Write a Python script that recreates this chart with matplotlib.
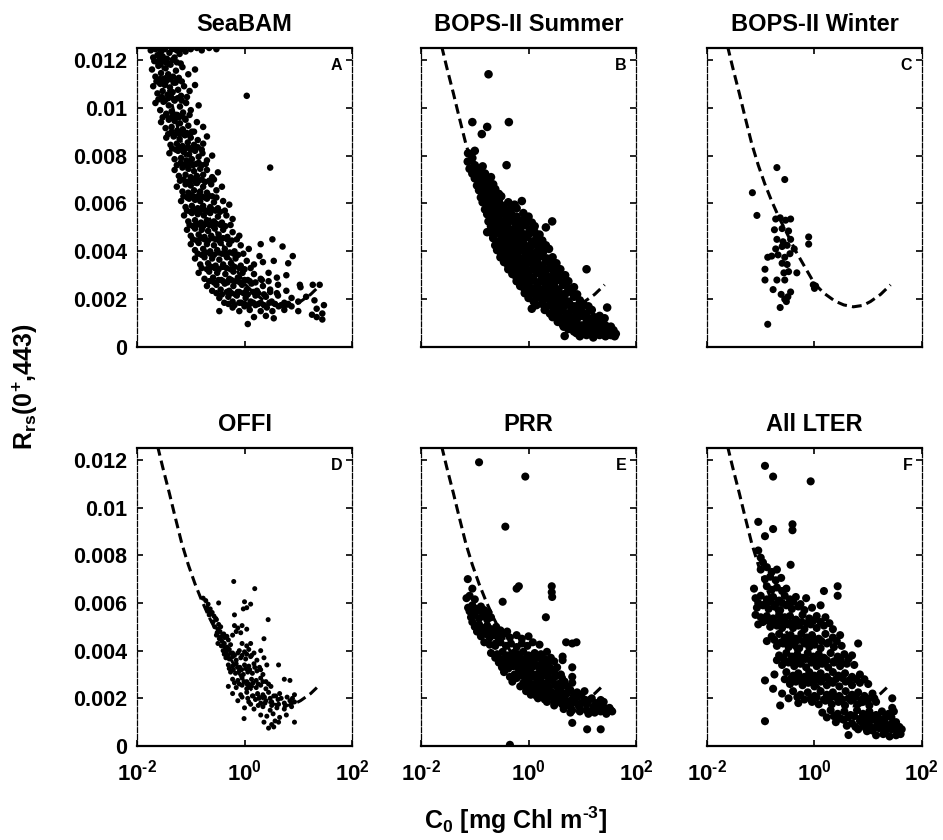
import numpy as np
import matplotlib
matplotlib.use("Agg")
import matplotlib.pyplot as plt

# ==========================================
# 0. DATA (C0 in mg Chl m^-3, Rrs x 1000)
# ==========================================
panel_titles = ["SeaBAM", "BOPS-II Summer", "BOPS-II Winter", "OFFI", "PRR", "All LTER"]
panel_letters = ["A", "B", "C", "D", "E", "F"]

# dashed model curve
curve_chl = [0.022, 0.024, 0.03, 0.04, 0.05, 0.068, 0.09, 0.12, 0.16, 0.22, 0.3, 0.45,
             0.7, 1.0, 1.5, 2.4, 3.5, 5.3, 8, 11, 17, 26]
curve_rrs = [13.2, 12.6, 11.7, 10.6, 9.7, 8.5, 7.6, 6.8, 6.1, 5.4, 4.8, 4.0,
             3.25, 2.65, 2.25, 1.92, 1.76, 1.68, 1.74, 1.9, 2.2, 2.6]

seabam_pts = [
    (0.018, 12.4), (0.02, 12.1), (0.022, 12.45), (0.024, 12.2), (0.026, 12.0), (0.028, 12.35),
    (0.03, 12.15), (0.033, 12.45), (0.036, 12.05), (0.04, 12.3), (0.045, 12.45), (0.05, 12.1),
    (0.055, 12.4), (0.062, 12.25), (0.07, 12.45), (0.08, 12.35), (0.1, 12.45), (0.13, 12.5),
    (0.16, 12.4), (0.22, 12.5), (0.3, 12.45),
    (0.019, 11.6), (0.022, 11.3), (0.025, 11.75), (0.028, 11.45), (0.031, 11.2), (0.034, 11.65),
    (0.038, 11.4), (0.042, 11.8), (0.047, 11.3), (0.053, 11.55), (0.06, 11.25), (0.07, 11.7),
    (0.09, 11.4), (0.12, 11.6),
    (0.02, 10.9), (0.024, 10.6), (0.027, 11.0), (0.03, 10.7), (0.033, 10.95), (0.037, 10.55),
    (0.041, 10.85), (0.046, 10.65), (0.052, 11.05), (0.058, 10.75), (0.066, 10.5), (0.075, 10.9),
    (0.095, 10.7), (0.12, 10.95),
    (0.022, 10.2), (0.027, 9.9), (0.031, 10.25), (0.035, 9.75), (0.039, 10.1), (0.044, 9.85),
    (0.05, 10.3), (0.056, 9.7), (0.063, 10.05), (0.072, 9.8), (0.082, 10.2), (0.1, 9.9),
    (0.14, 10.1), (1.1, 10.5),
    (0.028, 9.4), (0.034, 9.15), (0.039, 9.5), (0.044, 9.2), (0.05, 9.45), (0.056, 9.05),
    (0.063, 9.35), (0.071, 9.1), (0.08, 9.5), (0.09, 9.25), (0.105, 9.0), (0.13, 9.4), (0.17, 9.2),
    (0.035, 8.75), (0.042, 8.45), (0.048, 8.8), (0.055, 8.5), (0.062, 8.7), (0.07, 8.4),
    (0.078, 8.85), (0.088, 8.55), (0.1, 8.75), (0.115, 8.45), (0.135, 8.65), (0.17, 8.5), (0.2, 8.8),
    (0.04, 8.1), (0.05, 7.85), (0.058, 8.2), (0.066, 7.9), (0.074, 8.15), (0.083, 7.8),
    (0.093, 8.05), (0.105, 7.85), (0.12, 8.2), (0.14, 7.95), (0.165, 8.1), (0.2, 7.8), (0.25, 8.0),
    (0.05, 7.4), (0.06, 7.15), (0.07, 7.5), (0.08, 7.2), (0.09, 7.45), (0.1, 7.1), (0.115, 7.35),
    (0.13, 7.15), (0.15, 7.45), (0.17, 7.2), (0.2, 7.4), (0.25, 7.1), (0.32, 7.3), (3.0, 7.5),
    (0.055, 6.7), (0.07, 6.5), (0.08, 6.8), (0.09, 6.45), (0.1, 6.75), (0.115, 6.55), (0.13, 6.85),
    (0.15, 6.5), (0.17, 6.7), (0.2, 6.45), (0.24, 6.8), (0.3, 6.55), (0.38, 6.7),
    (0.066, 6.1), (0.08, 5.85), (0.093, 6.2), (0.105, 5.9), (0.12, 6.15), (0.135, 5.8), (0.15, 6.1),
    (0.17, 5.9), (0.2, 6.2), (0.23, 5.85), (0.27, 6.05), (0.32, 5.8), (0.4, 6.1), (0.52, 5.95),
    (0.075, 5.5), (0.09, 5.25), (0.105, 5.6), (0.12, 5.3), (0.135, 5.55), (0.155, 5.2),
    (0.175, 5.5), (0.2, 5.3), (0.23, 5.6), (0.27, 5.25), (0.32, 5.45), (0.38, 5.2), (0.46, 5.5),
    (0.6, 5.35),
    (0.085, 4.9), (0.1, 4.65), (0.12, 4.95), (0.14, 4.7), (0.16, 4.9), (0.18, 4.6), (0.21, 4.85),
    (0.24, 4.65), (0.28, 4.95), (0.33, 4.7), (0.4, 4.9), (0.48, 4.6), (0.6, 4.8), (0.8, 4.65),
    (0.1, 4.3), (0.12, 4.05), (0.14, 4.35), (0.17, 4.1), (0.2, 4.3), (0.23, 4.0), (0.27, 4.25),
    (0.31, 4.05), (0.36, 4.35), (0.43, 4.1), (0.52, 4.3), (0.65, 4.0), (0.85, 4.25), (1.2, 4.1),
    (2.0, 4.3), (3.3, 4.5), (5.1, 4.2),
    (0.12, 3.7), (0.15, 3.45), (0.18, 3.75), (0.21, 3.5), (0.25, 3.7), (0.29, 3.4), (0.34, 3.65),
    (0.4, 3.45), (0.47, 3.75), (0.56, 3.5), (0.68, 3.7), (0.85, 3.4), (1.1, 3.6), (1.5, 3.45),
    (1.9, 3.8), (2.2, 3.55), (3.5, 3.6), (6.5, 3.5), (7.9, 3.8),
    (0.14, 3.1), (0.18, 2.85), (0.22, 3.15), (0.26, 2.9), (0.31, 3.1), (0.37, 2.8), (0.44, 3.05),
    (0.52, 2.85), (0.62, 3.15), (0.75, 2.9), (0.92, 3.1), (1.15, 2.8), (1.5, 3.05), (2.0, 2.85),
    (2.8, 3.1), (4, 2.9), (6, 3.0), (10.7, 2.6),
    (0.2, 2.55), (0.25, 2.35), (0.3, 2.6), (0.36, 2.4), (0.43, 2.65), (0.52, 2.35), (0.62, 2.55),
    (0.75, 2.3), (0.9, 2.6), (1.1, 2.4), (1.35, 2.65), (1.7, 2.35), (2.2, 2.55), (3.0, 2.4),
    (4.2, 2.6), (6, 2.35), (11, 2.5), (18.6, 2.6), (25, 2.6),
    (0.34, 2.05), (0.42, 1.85), (0.5, 2.1), (0.6, 1.9), (0.72, 2.15), (0.87, 1.85), (1.05, 2.05),
    (1.3, 1.9), (1.6, 2.15), (2.0, 1.85), (2.5, 2.1), (3.2, 1.9), (4.2, 2.15), (5.5, 1.85),
    (7.5, 2.05), (10, 1.9), (14, 2.1), (20, 1.95),
    (0.6, 1.65), (0.8, 1.5), (1.0, 1.7), (1.25, 1.55), (1.6, 1.75), (2.0, 1.5), (2.6, 1.65),
    (3.3, 1.5), (4.3, 1.7), (5.5, 1.55), (7.5, 1.7), (10, 1.5), (18, 1.35), (22, 1.6), (28, 1.4),
    (30, 1.75),
    (0.34, 1.5), (1.15, 0.96), (1.5, 1.25), (2.5, 1.3), (3.5, 1.2), (22, 1.25), (28, 1.15),
    # dense core, in-between rows
    (0.021, 11.95), (0.025, 11.85), (0.029, 12.0), (0.034, 11.9), (0.039, 11.85), (0.046, 12.0),
    (0.055, 11.9), (0.065, 11.85),
    (0.023, 11.1), (0.027, 11.2), (0.031, 11.05), (0.036, 11.15), (0.041, 11.2), (0.048, 11.05),
    (0.056, 11.15), (0.068, 11.1),
    (0.025, 10.35), (0.029, 10.45), (0.033, 10.3), (0.038, 10.4), (0.043, 10.45), (0.049, 10.35),
    (0.057, 10.4), (0.068, 10.3), (0.085, 10.45),
    (0.03, 9.6), (0.035, 9.7), (0.04, 9.55), (0.046, 9.65), (0.053, 9.7), (0.06, 9.6),
    (0.068, 9.65), (0.078, 9.55), (0.095, 9.7),
    (0.038, 8.9), (0.044, 9.0), (0.05, 8.85), (0.057, 8.95), (0.065, 9.0), (0.074, 8.9),
    (0.084, 8.95), (0.096, 8.85), (0.115, 9.0),
    (0.045, 8.3), (0.053, 8.25), (0.061, 8.35), (0.07, 8.25), (0.08, 8.3), (0.09, 8.35),
    (0.1, 8.25), (0.115, 8.3), (0.135, 8.35), (0.16, 8.25),
    (0.055, 7.6), (0.065, 7.7), (0.075, 7.6), (0.085, 7.65), (0.095, 7.7), (0.11, 7.6),
    (0.125, 7.65), (0.14, 7.7), (0.16, 7.6), (0.19, 7.65),
    (0.063, 6.95), (0.073, 7.0), (0.085, 6.9), (0.097, 6.95), (0.11, 7.0), (0.125, 6.9),
    (0.14, 6.95), (0.16, 7.0), (0.185, 6.9), (0.22, 6.95), (0.27, 7.0),
    (0.073, 6.3), (0.086, 6.25), (0.1, 6.35), (0.112, 6.3), (0.127, 6.25), (0.143, 6.35),
    (0.16, 6.3), (0.185, 6.25), (0.21, 6.35), (0.25, 6.3), (0.3, 6.25),
    (0.085, 5.7), (0.1, 5.65), (0.113, 5.75), (0.128, 5.7), (0.145, 5.65), (0.165, 5.75),
    (0.19, 5.7), (0.215, 5.65), (0.25, 5.75), (0.29, 5.7), (0.35, 5.65), (0.43, 5.7),
    (0.095, 5.1), (0.11, 5.05), (0.13, 5.15), (0.15, 5.1), (0.17, 5.05), (0.195, 5.15),
    (0.22, 5.1), (0.26, 5.05), (0.3, 5.15), (0.36, 5.1), (0.44, 5.05), (0.55, 5.1),
    (0.11, 4.5), (0.13, 4.45), (0.155, 4.55), (0.18, 4.5), (0.21, 4.45), (0.25, 4.55),
    (0.29, 4.5), (0.34, 4.45), (0.4, 4.55), (0.48, 4.5), (0.58, 4.45), (0.72, 4.5),
    (0.135, 3.9), (0.16, 3.85), (0.19, 3.95), (0.23, 3.9), (0.27, 3.85), (0.32, 3.95),
    (0.38, 3.9), (0.45, 3.85), (0.53, 3.95), (0.63, 3.9), (0.76, 3.85), (0.95, 3.9),
    (0.16, 3.3), (0.2, 3.25), (0.24, 3.35), (0.28, 3.3), (0.33, 3.25), (0.39, 3.35),
    (0.46, 3.3), (0.55, 3.25), (0.65, 3.35), (0.8, 3.3), (1.0, 3.25), (1.3, 3.3),
    (0.22, 2.75), (0.27, 2.7), (0.33, 2.8), (0.4, 2.75), (0.48, 2.7), (0.57, 2.8), (0.68, 2.75),
    (0.82, 2.7), (1.0, 2.8), (1.25, 2.75), (1.6, 2.7), (2.1, 2.8), (2.8, 2.75),
    (0.3, 2.25), (0.38, 2.2), (0.47, 2.3), (0.57, 2.25), (0.68, 2.2), (0.8, 2.3), (0.96, 2.25),
    (1.15, 2.2), (1.45, 2.3), (1.8, 2.25), (2.3, 2.2), (3.0, 2.3), (4.0, 2.25),
    (0.5, 1.8), (0.65, 1.75), (0.8, 1.85), (1.0, 1.8), (1.2, 1.75), (1.45, 1.85), (1.8, 1.8),
    (2.3, 1.75), (2.9, 1.85), (3.7, 1.8), (4.8, 1.75), (6.5, 1.8),
]

bops_summer_pts = [
    (0.18, 11.4), (0.09, 9.4), (0.17, 9.2), (0.135, 8.9), (0.43, 9.4), (0.074, 7.75), (0.39, 7.6),
    (0.17, 4.8), (1.15, 1.6), (4.7, 0.46), (29, 1.65), (12, 3.25), (2.75, 5.25), (2.1, 5.0), (3.3, 3.5),
    (0.075, 8.1), (0.09, 7.9), (0.1, 8.2),
    (0.08, 7.45), (0.1, 7.6), (0.12, 7.4), (0.14, 7.55),
    (0.1, 7.05), (0.12, 6.9), (0.14, 7.1), (0.17, 6.95), (0.2, 7.1),
    (0.12, 6.55), (0.14, 6.4), (0.17, 6.6), (0.2, 6.45), (0.24, 6.6), (0.28, 6.4),
    (0.14, 6.05), (0.17, 5.9), (0.2, 6.1), (0.24, 5.95), (0.28, 6.1), (0.34, 5.9), (0.42, 6.05),
    (0.55, 5.95), (0.75, 6.1),
    (0.17, 5.55), (0.2, 5.4), (0.24, 5.6), (0.28, 5.45), (0.33, 5.6), (0.4, 5.4), (0.48, 5.55),
    (0.6, 5.45), (0.8, 5.6), (1.0, 5.45),
    (0.2, 5.05), (0.24, 4.9), (0.28, 5.1), (0.33, 4.95), (0.4, 5.1), (0.48, 4.9), (0.58, 5.05),
    (0.7, 4.95), (0.85, 5.1), (1.05, 4.9), (1.3, 5.05),
    (0.22, 4.55), (0.27, 4.4), (0.32, 4.6), (0.38, 4.45), (0.45, 4.6), (0.54, 4.4), (0.65, 4.55),
    (0.78, 4.45), (0.95, 4.6), (1.15, 4.4), (1.4, 4.55), (1.8, 4.45),
    (0.26, 4.05), (0.31, 3.9), (0.37, 4.1), (0.44, 3.95), (0.52, 4.1), (0.62, 3.9), (0.74, 4.05),
    (0.88, 3.95), (1.05, 4.1), (1.25, 3.9), (1.5, 4.05), (1.85, 3.95), (2.4, 4.1),
    (0.35, 3.55), (0.42, 3.4), (0.5, 3.6), (0.6, 3.45), (0.72, 3.55), (0.86, 3.4), (1.0, 3.6),
    (1.2, 3.45), (1.45, 3.55), (1.75, 3.4), (2.1, 3.6), (2.6, 3.45),
    (0.5, 3.05), (0.6, 2.9), (0.72, 3.1), (0.86, 2.95), (1.0, 3.05), (1.2, 2.9), (1.45, 3.1),
    (1.75, 2.95), (2.1, 3.05), (2.5, 2.9), (3.0, 3.1), (3.7, 2.95), (4.8, 3.0),
    (0.7, 2.55), (0.85, 2.4), (1.0, 2.6), (1.2, 2.45), (1.45, 2.55), (1.75, 2.4), (2.1, 2.6),
    (2.5, 2.45), (3.0, 2.55), (3.6, 2.4), (4.4, 2.6), (5.5, 2.45), (7, 2.5),
    (1.0, 2.05), (1.25, 1.9), (1.5, 2.1), (1.8, 1.95), (2.2, 2.05), (2.6, 1.9), (3.1, 2.1),
    (3.7, 1.95), (4.5, 2.05), (5.5, 1.9), (7, 2.1), (9, 1.95),
    (2.0, 1.55), (2.5, 1.4), (3.0, 1.6), (3.6, 1.45), (4.3, 1.55), (5.2, 1.4), (6.3, 1.6),
    (7.7, 1.45), (9.5, 1.55), (12, 1.4), (15, 1.55),
    (3.5, 1.05), (4.3, 0.95), (5.2, 1.1), (6.3, 0.95), (7.7, 1.05), (9.5, 0.9), (12, 1.05),
    (15, 0.95), (19, 1.1), (24, 0.95),
    (5.5, 0.75), (7, 0.65), (9, 0.75), (11, 0.6), (14, 0.75), (18, 0.65), (23, 0.75), (30, 0.6),
    (38, 0.7),
    (9, 0.45), (12, 0.5), (16, 0.4), (21, 0.5), (27, 0.45), (34, 0.5), (40, 0.45),
    # dense core, in-between rows
    (0.09, 7.25), (0.11, 7.3), (0.13, 7.2), (0.155, 7.25),
    (0.11, 6.75), (0.13, 6.8), (0.155, 6.7), (0.185, 6.75), (0.22, 6.8),
    (0.13, 6.25), (0.155, 6.2), (0.185, 6.3), (0.22, 6.25), (0.26, 6.2), (0.31, 6.3),
    (0.155, 5.75), (0.185, 5.8), (0.22, 5.7), (0.26, 5.75), (0.31, 5.8), (0.37, 5.7), (0.45, 5.75),
    (0.6, 5.8),
    (0.18, 5.25), (0.22, 5.2), (0.26, 5.3), (0.31, 5.25), (0.37, 5.2), (0.44, 5.3), (0.53, 5.25),
    (0.64, 5.2), (0.77, 5.3), (0.93, 5.25), (1.15, 5.2),
    (0.21, 4.75), (0.25, 4.8), (0.3, 4.7), (0.36, 4.75), (0.42, 4.8), (0.5, 4.7), (0.6, 4.75),
    (0.72, 4.8), (0.87, 4.7), (1.05, 4.75), (1.3, 4.8), (1.6, 4.7),
    (0.24, 4.25), (0.29, 4.3), (0.34, 4.2), (0.41, 4.25), (0.48, 4.3), (0.57, 4.2), (0.68, 4.25),
    (0.81, 4.3), (0.97, 4.2), (1.15, 4.25), (1.4, 4.3), (1.7, 4.2), (2.1, 4.25),
    (0.3, 3.75), (0.36, 3.8), (0.43, 3.7), (0.51, 3.75), (0.61, 3.8), (0.73, 3.7), (0.87, 3.75),
    (1.03, 3.8), (1.23, 3.7), (1.48, 3.75), (1.8, 3.8), (2.2, 3.7), (2.8, 3.75),
    (0.42, 3.25), (0.5, 3.3), (0.6, 3.2), (0.72, 3.25), (0.85, 3.3), (1.0, 3.2), (1.2, 3.25),
    (1.45, 3.3), (1.75, 3.2), (2.1, 3.25), (2.5, 3.3), (3.1, 3.2), (3.9, 3.25),
    (0.6, 2.75), (0.72, 2.8), (0.86, 2.7), (1.03, 2.75), (1.23, 2.8), (1.47, 2.7), (1.76, 2.75),
    (2.1, 2.8), (2.5, 2.7), (3.0, 2.75), (3.6, 2.8), (4.4, 2.7), (5.5, 2.75),
    (0.85, 2.25), (1.05, 2.3), (1.3, 2.2), (1.55, 2.25), (1.9, 2.3), (2.3, 2.2), (2.8, 2.25),
    (3.4, 2.3), (4.1, 2.2), (5, 2.25), (6.2, 2.3), (8, 2.2),
    (1.4, 1.75), (1.8, 1.8), (2.2, 1.7), (2.7, 1.75), (3.3, 1.8), (4.0, 1.7), (4.8, 1.75),
    (5.8, 1.8), (7, 1.7), (8.5, 1.75), (10.5, 1.8), (13, 1.7),
    (2.8, 1.25), (3.3, 1.3), (4.0, 1.2), (4.8, 1.25), (5.8, 1.3), (7, 1.2), (8.5, 1.25),
    (10.5, 1.3), (13, 1.2), (16.5, 1.25), (21, 1.3), (26, 1.2),
    (4.5, 0.85), (5.8, 0.8), (7, 0.9), (8.5, 0.85), (10.5, 0.8), (13, 0.9), (16.5, 0.85),
    (21, 0.8), (27, 0.9), (34, 0.85),
    (7.8, 0.58), (10, 0.55), (12.5, 0.62), (16, 0.58), (20, 0.55), (26, 0.6), (33, 0.58), (42, 0.55),
]

bops_winter_pts = [
    (0.2, 7.5), (0.28, 7.0), (0.07, 6.45), (0.085, 5.5),
    (0.19, 5.35), (0.23, 5.4), (0.29, 5.3), (0.36, 5.35),
    (0.18, 4.9), (0.25, 4.95), (0.33, 4.85),
    (0.2, 4.5), (0.26, 4.4), (0.36, 4.5),
    (0.19, 4.1), (0.25, 4.2), (0.31, 4.25), (0.42, 4.1),
    (0.16, 3.8), (0.21, 3.85), (0.28, 3.75), (0.35, 3.9),
    (0.25, 3.5), (0.31, 3.45), (0.27, 3.1), (0.33, 3.15), (0.28, 2.8),
    (0.78, 4.6), (0.78, 4.3), (0.47, 3.1), (0.95, 2.6), (1.0, 2.45), (1.05, 2.55),
    (0.12, 3.25), (0.12, 2.8), (0.2, 2.8), (0.17, 2.4), (0.24, 2.2), (0.28, 2.0), (0.32, 2.1),
    (0.36, 2.3), (0.3, 1.9), (0.23, 1.65), (0.135, 0.95), (0.135, 3.75),
]

offi_pts = [
    (0.63, 6.9), (1.55, 6.6), (0.17, 6.2), (0.19, 6.1), (0.33, 6.0), (0.21, 5.95), (1.0, 6.05),
    (1.3, 5.95), (0.2, 5.8), (0.23, 5.75), (0.25, 5.6), (0.95, 5.75), (1.1, 5.8), (0.22, 5.5),
    (0.27, 5.45), (0.29, 5.35), (0.65, 5.5), (0.26, 5.2), (0.3, 5.3), (0.33, 5.1), (2.75, 5.3),
    (0.28, 5.0), (0.32, 4.9), (0.36, 5.0), (0.65, 5.05), (0.75, 4.95), (0.9, 5.05), (1.1, 4.9),
    (0.31, 4.75), (0.35, 4.8), (0.39, 4.65), (0.7, 4.8), (0.85, 4.75), (0.34, 4.5), (0.38, 4.4),
    (0.43, 4.55), (0.5, 4.45), (2.3, 4.5), (0.32, 4.3), (0.37, 4.2), (0.42, 4.3), (0.47, 4.15),
    (0.55, 4.25), (0.9, 4.3), (1.1, 4.2), (1.3, 4.3), (0.4, 4.0), (0.46, 3.95), (0.52, 4.05),
    (0.6, 3.9), (0.8, 4.0), (1.0, 3.95), (1.2, 4.05), (1.5, 3.9), (2.0, 4.0), (0.45, 3.7),
    (0.52, 3.65), (0.6, 3.75), (0.7, 3.6), (0.85, 3.7), (1.05, 3.65), (1.3, 3.75), (1.7, 3.6),
    (2.3, 3.7), (0.5, 3.4), (0.6, 3.35), (0.7, 3.45), (0.82, 3.3), (1.0, 3.4), (1.2, 3.35),
    (1.5, 3.45), (1.9, 3.3), (2.6, 3.4), (4.3, 3.4), (0.55, 3.1), (0.68, 3.05), (0.8, 3.15),
    (0.95, 3.0), (1.15, 3.1), (1.4, 3.05), (1.7, 3.15), (2.2, 3.0), (0.6, 2.8), (0.75, 2.75),
    (0.9, 2.85), (1.1, 2.7), (1.35, 2.8), (1.65, 2.75), (2.0, 2.85), (2.5, 2.7), (5.5, 2.8),
    (7, 2.75), (0.5, 2.5), (0.7, 2.45), (0.9, 2.55), (1.1, 2.4), (1.35, 2.5), (1.65, 2.45),
    (2.0, 2.55), (2.5, 2.4), (3.1, 2.5), (0.6, 2.2), (0.85, 2.15), (1.1, 2.25), (1.4, 2.1),
    (1.75, 2.2), (2.2, 2.15), (2.8, 2.25), (3.5, 2.1), (4.5, 2.2), (8.5, 2.15), (0.75, 1.9),
    (1.2, 1.85), (1.6, 1.95), (2.0, 1.8), (2.5, 1.9), (3.2, 1.85), (4.2, 1.95), (5.5, 1.8),
    (7, 1.9), (8.5, 1.85), (1.0, 1.6), (1.5, 1.55), (2.2, 1.65), (3.0, 1.5), (4.0, 1.6),
    (5.5, 1.55), (7.5, 1.65), (0.98, 1.15), (2.0, 1.3), (2.6, 1.25), (3.4, 1.35), (4.5, 1.2),
    (6, 1.3), (3.7, 1.05), (2.3, 1.0), (3.2, 0.9), (4.3, 1.0), (8.5, 1.0), (2.8, 0.75), (3.5, 0.8),
    (0.21, 5.65), (0.24, 5.55), (0.3, 4.65), (0.36, 4.55), (0.41, 4.7), (0.47, 4.6), (0.6, 4.65),
    (0.42, 3.85), (0.49, 3.8), (0.56, 3.9), (0.65, 3.8), (0.75, 3.9), (0.9, 3.8), (1.1, 3.85),
    (1.35, 3.8), (0.52, 3.25), (0.62, 3.2), (0.74, 3.3), (0.88, 3.2), (1.05, 3.25), (1.25, 3.2),
    (1.55, 3.3), (2.0, 3.2), (0.65, 2.65), (0.8, 2.6), (0.98, 2.7), (1.2, 2.6), (1.45, 2.65),
    (1.8, 2.6), (2.2, 2.7), (2.8, 2.6), (0.9, 2.05), (1.15, 2.0), (1.45, 2.1), (1.85, 2.0),
    (2.35, 2.05), (3.0, 2.0), (3.8, 2.1), (4.8, 2.0), (6.2, 2.05), (7.8, 2.0), (1.3, 1.75),
    (1.8, 1.7), (2.4, 1.8), (3.2, 1.7), (4.3, 1.75), (5.8, 1.7), (7.5, 1.8),
]

prr_pts = [
    (0.12, 11.9), (0.87, 11.3), (0.37, 9.2), (0.074, 7.0), (0.09, 6.6), (0.6, 6.6), (0.66, 6.7),
    (2.7, 6.7), (2.7, 6.45), (2.75, 6.25), (0.07, 6.2), (0.08, 6.3), (0.1, 6.15), (0.33, 6.05),
    (0.075, 5.8), (0.09, 5.9), (0.11, 5.75), (0.13, 5.85), (0.15, 5.7), (0.085, 5.4), (0.1, 5.5),
    (0.12, 5.35), (0.14, 5.45), (0.17, 5.3), (0.2, 5.4), (2.1, 5.4), (0.09, 5.2), (0.1, 5.0),
    (0.12, 5.1), (0.14, 4.95), (0.17, 5.05), (0.2, 4.9), (0.25, 5.0), (0.3, 4.85),
    (0.13, 4.6), (0.16, 4.7), (0.19, 4.55), (0.23, 4.65), (0.28, 4.5), (0.35, 4.7), (0.45, 4.55),
    (0.6, 4.65), (0.75, 4.5), (1.0, 4.6), (0.245, 4.3), (0.15, 4.35), (0.19, 4.25), (0.24, 4.2),
    (0.3, 4.35), (0.38, 4.2), (0.47, 4.3), (0.6, 4.15), (0.75, 4.3), (0.95, 4.2), (1.2, 4.35),
    (1.6, 4.25), (5, 4.35), (6.5, 4.3), (7.8, 4.35), (0.2, 3.9), (0.26, 3.85), (0.33, 3.95),
    (0.42, 3.8), (0.52, 3.9), (0.65, 3.85), (0.8, 3.95), (1.0, 3.8), (1.3, 3.9), (1.7, 3.85),
    (2.2, 3.95), (4.3, 3.75), (0.28, 3.5), (0.36, 3.45), (0.45, 3.55), (0.56, 3.4), (0.7, 3.5),
    (0.88, 3.45), (1.1, 3.55), (1.4, 3.4), (1.8, 3.5), (2.3, 3.45), (3.0, 3.55), (4.3, 3.6),
    (0.35, 3.1), (0.55, 3.0), (0.7, 3.15), (0.9, 3.05), (1.1, 3.1), (1.4, 3.0), (1.8, 3.15),
    (2.3, 3.05), (3, 3.1), (4, 3.0), (6.5, 3.3), (6.5, 2.9), (0.5, 2.7), (0.8, 2.65), (1.0, 2.75),
    (1.3, 2.6), (1.7, 2.7), (2.2, 2.65), (2.8, 2.75), (3.6, 2.6), (4.7, 2.7), (6.5, 2.65),
    (0.9, 2.3), (1.2, 2.35), (1.6, 2.25), (2.1, 2.35), (2.7, 2.25), (3.5, 2.3), (4.5, 2.2),
    (6, 2.35), (8, 2.25), (11, 2.3), (1.5, 2.0), (2.0, 1.95), (2.7, 2.05), (3.5, 1.95), (4.6, 2.0),
    (6, 1.9), (8, 2.05), (11, 1.95), (15, 2.0), (22, 1.93), (3, 1.7), (4.2, 1.75), (6, 1.65),
    (8.5, 1.7), (12, 1.75), (16, 1.65), (20, 1.7), (26, 1.6), (32, 1.6), (6, 1.4), (9, 1.45),
    (13, 1.35), (17, 1.4), (22, 1.45), (28, 1.35), (36, 1.45), (6.5, 0.97), (12.3, 0.7),
    (22, 0.7), (0.45, 0.05),
    (0.08, 5.65), (0.1, 5.6), (0.12, 5.7), (0.15, 5.55), (0.18, 5.6),
    (0.11, 4.8), (0.14, 4.75), (0.17, 4.85), (0.21, 4.75), (0.26, 4.8), (0.32, 4.7), (0.4, 4.8),
    (0.24, 3.7), (0.3, 3.65), (0.38, 3.75), (0.48, 3.65), (0.6, 3.7), (0.75, 3.65), (0.95, 3.75),
    (1.2, 3.65), (1.5, 3.7), (2.0, 3.65), (2.6, 3.7),
    (0.32, 3.3), (0.42, 3.25), (0.52, 3.35), (0.65, 3.25), (0.8, 3.3), (1.0, 3.25), (1.25, 3.35),
    (1.6, 3.25), (2.0, 3.3), (2.6, 3.25), (3.4, 3.3),
    (0.45, 2.9), (0.6, 2.85), (0.75, 2.95), (0.95, 2.85), (1.2, 2.9), (1.5, 2.85), (1.9, 2.95),
    (2.4, 2.85), (3.1, 2.9), (4.2, 2.85),
    (0.7, 2.5), (0.9, 2.45), (1.15, 2.55), (1.45, 2.45), (1.85, 2.5), (2.4, 2.45), (3.1, 2.55),
    (4, 2.45), (5.2, 2.5),
    (1.1, 2.15), (1.4, 2.1), (1.8, 2.2), (2.4, 2.1), (3.1, 2.15), (4, 2.1), (5.2, 2.2), (7, 2.1),
    (9.5, 2.15),
    (2.2, 1.85), (3, 1.8), (4, 1.9), (5.3, 1.8), (7, 1.85), (9.5, 1.8), (13, 1.9), (18, 1.8),
    (25, 1.85),
    (4.5, 1.55), (6.5, 1.5), (9, 1.6), (12, 1.5), (16, 1.55), (21, 1.5), (27, 1.55), (34, 1.5),
]

lter_pts = [
    (0.12, 11.75), (0.17, 11.3), (0.85, 11.1), (0.09, 9.4), (0.17, 9.1), (0.39, 9.3), (0.39, 9.05),
    (0.12, 8.8), (0.09, 8.2), (0.1, 7.9), (0.11, 7.7), (0.36, 7.6), (1.5, 6.5), (2.7, 6.7),
    (2.7, 6.3), (6.5, 4.3), (0.12, 2.75), (0.17, 2.4), (0.12, 1.04), (0.23, 1.7), (28, 2.0),
    (28, 1.6), (4.3, 0.46), (9.5, 0.62),
    (0.1, 7.4), (0.13, 7.5), (0.16, 7.3), (0.2, 7.4), (0.12, 7.0), (0.15, 7.1), (0.19, 6.95),
    (0.24, 7.05), (0.075, 6.6), (0.13, 6.7), (0.16, 6.55), (0.2, 6.65), (0.25, 6.5), (0.3, 6.6),
    (0.08, 6.2), (0.1, 6.3), (0.13, 6.15), (0.17, 6.25), (0.22, 6.1), (0.28, 6.3), (0.35, 6.15),
    (0.45, 6.25), (0.7, 6.2), (0.085, 5.8), (0.11, 5.9), (0.14, 5.75), (0.18, 5.85), (0.23, 5.7),
    (0.3, 5.9), (0.38, 5.75), (0.5, 5.85), (0.65, 5.7), (0.9, 5.8), (1.3, 5.9), (0.08, 5.5),
    (0.1, 5.4), (0.13, 5.45), (0.17, 5.35), (0.22, 5.5), (0.28, 5.4), (0.35, 5.45), (0.45, 5.3),
    (0.6, 5.5), (0.8, 5.35), (1.1, 5.45), (1.6, 5.4), (0.09, 5.1), (0.15, 5.0), (0.2, 5.05),
    (0.25, 4.95), (0.32, 5.1), (0.4, 4.95), (0.5, 5.05), (0.65, 4.9), (0.85, 5.1), (1.1, 4.95),
    (1.5, 5.05), (2.2, 4.9), (0.16, 4.6), (0.22, 4.7), (0.28, 4.55), (0.36, 4.65), (0.45, 4.5),
    (0.57, 4.7), (0.72, 4.55), (0.9, 4.65), (1.2, 4.5), (1.6, 4.7), (2.2, 4.55), (3, 4.65),
    (0.2, 4.2), (0.26, 4.3), (0.33, 4.15), (0.42, 4.25), (0.52, 4.1), (0.65, 4.3), (0.8, 4.15),
    (1.0, 4.25), (1.3, 4.1), (1.7, 4.3), (2.3, 4.15), (3.2, 4.2), (0.22, 3.8), (0.3, 3.9),
    (0.38, 3.75), (0.48, 3.85), (0.6, 3.7), (0.75, 3.9), (0.95, 3.75), (1.2, 3.85), (1.5, 3.7),
    (2.0, 3.9), (2.7, 3.75), (3.6, 3.85), (5, 3.8), (0.25, 3.4), (0.33, 3.5), (0.42, 3.35),
    (0.55, 3.45), (0.7, 3.3), (0.88, 3.5), (1.1, 3.35), (1.4, 3.45), (1.8, 3.3), (2.3, 3.5),
    (3.0, 3.35), (4, 3.45), (5.5, 3.4), (0.18, 3.0), (0.3, 3.1), (0.4, 2.95), (0.5, 3.05),
    (0.65, 2.9), (0.8, 3.1), (1.0, 2.95), (1.3, 3.05), (1.7, 2.9), (2.2, 3.1), (2.8, 2.95),
    (3.7, 3.05), (5, 2.9), (7, 3.0), (0.35, 2.6), (0.45, 2.7), (0.6, 2.55), (0.77, 2.65),
    (1.0, 2.5), (1.3, 2.7), (1.7, 2.55), (2.2, 2.65), (2.9, 2.5), (3.8, 2.7), (5, 2.55),
    (7, 2.65), (10, 2.6), (0.25, 2.2), (0.4, 2.3), (0.55, 2.15), (0.75, 2.25), (1.0, 2.1),
    (1.3, 2.3), (1.7, 2.15), (2.2, 2.25), (2.9, 2.1), (3.8, 2.3), (5, 2.15), (6.5, 2.25),
    (8.5, 2.1), (12, 2.2), (0.5, 1.8), (0.9, 1.85), (1.2, 1.75), (1.6, 1.9), (2.1, 1.75),
    (2.8, 1.85), (3.7, 1.7), (4.8, 1.9), (6.3, 1.75), (8, 1.85), (10.5, 1.7), (14, 1.85),
    (1.4, 1.4), (2.0, 1.5), (2.7, 1.35), (3.6, 1.45), (4.7, 1.3), (6.2, 1.5), (8, 1.35),
    (10.5, 1.45), (14, 1.3), (18, 1.45), (24, 1.35), (30, 1.45), (2.5, 1.0), (3.5, 1.1),
    (5, 0.95), (7, 1.05), (9, 0.95), (12, 1.1), (15, 0.95), (20, 1.05), (26, 0.9), (33, 1.0),
    (6.5, 0.7), (9, 0.75), (12, 0.65), (16, 0.75), (21, 0.65), (27, 0.7), (35, 0.6), (42, 0.7),
    (14, 0.45), (19, 0.5), (25, 0.4), (33, 0.45), (40, 0.5),
    (0.09, 6.0), (0.12, 5.95), (0.15, 6.05), (0.19, 5.95), (0.25, 6.0), (0.32, 5.95), (0.4, 6.05),
    (0.55, 5.95), (0.11, 5.2), (0.14, 5.25), (0.18, 5.15), (0.23, 5.25), (0.29, 5.2), (0.37, 5.15),
    (0.46, 5.25), (0.58, 5.2), (0.73, 5.15), (0.95, 5.25), (1.3, 5.2), (1.9, 5.15),
    (0.13, 4.4), (0.18, 4.45), (0.24, 4.35), (0.31, 4.4), (0.39, 4.35), (0.5, 4.45), (0.63, 4.4),
    (0.8, 4.35), (1.0, 4.45), (1.35, 4.4), (1.85, 4.35), (2.6, 4.4),
    (0.2, 3.6), (0.27, 3.65), (0.34, 3.55), (0.43, 3.6), (0.54, 3.55), (0.68, 3.65), (0.85, 3.6),
    (1.05, 3.55), (1.35, 3.65), (1.7, 3.6), (2.3, 3.55), (3.1, 3.6), (4.3, 3.65),
    (0.28, 2.8), (0.37, 2.85), (0.48, 2.75), (0.6, 2.8), (0.75, 2.85), (0.95, 2.75), (1.15, 2.8),
    (1.5, 2.85), (1.9, 2.75), (2.5, 2.8), (3.3, 2.85), (4.4, 2.75), (6, 2.8), (8.5, 2.8),
    (0.33, 2.0), (0.48, 2.05), (0.65, 1.95), (0.85, 2.0), (1.1, 2.05), (1.5, 1.95), (1.9, 2.0),
    (2.5, 2.05), (3.3, 1.95), (4.3, 2.0), (5.7, 2.05), (7.5, 1.95), (9.5, 2.0), (13, 2.0),
    (1.7, 1.2), (2.3, 1.25), (3.1, 1.15), (4.2, 1.2), (5.5, 1.25), (7.2, 1.15), (9.5, 1.2),
    (12.5, 1.25), (16, 1.15), (21, 1.2), (27, 1.2),
    (4, 0.85), (5.8, 0.8), (8, 0.9), (10.5, 0.85), (14, 0.8), (18, 0.85), (23, 0.8), (30, 0.85),
    (38, 0.8),
]

panel_points = [seabam_pts, bops_summer_pts, bops_winter_pts, offi_pts, prr_pts, lter_pts]
marker_sizes = [22, 38, 26, 13, 34, 34]

y_ticks = [0, 0.002, 0.004, 0.006, 0.008, 0.010, 0.012]
y_tick_labels = ["0", "0.002", "0.004", "0.006", "0.008", "0.01", "0.012"]
x_ticks = [1e-2, 1e0, 1e2]
x_tick_labels = ["10$^{\u2010 2}$", "10$^{0}$", "10$^{2}$"]

# ==========================================
# 1. STYLE
# ==========================================
plt.rcParams.update({
    "font.family": "Liberation Sans",
    "font.weight": "bold",
    "mathtext.fontset": "custom",
    "mathtext.rm": "Liberation Sans:bold",
    "mathtext.it": "Liberation Sans:bold",
    "mathtext.bf": "Liberation Sans:bold",
    "mathtext.default": "rm",
})

fig = plt.figure(figsize=(9.43, 8.4), dpi=100)

lefts = [0.1453, 0.4465, 0.7497]
bottoms = [0.5869, 0.1119]
width = 0.228
heights = [0.356, 0.3548]

curve_c = np.array(curve_chl)
curve_r = np.array(curve_rrs) / 1000.0

for i in range(6):
    row, col = divmod(i, 3)
    ax = fig.add_axes([lefts[col], bottoms[row], width, heights[row]])

    pts = np.array(panel_points[i])
    chl = pts[:, 0]
    rrs = pts[:, 1] / 1000.0

    # model curve first, points over it
    ax.plot(curve_c, curve_r, color="black", lw=2.2, linestyle=(0, (3.2, 1.7)), zorder=1)
    ax.scatter(chl, rrs, s=marker_sizes[i], color="black", edgecolors="none", zorder=2)

    ax.set_xscale("log")
    ax.set_xlim(1e-2, 1e2)
    ax.set_ylim(0, 0.0125)
    ax.set_xticks(x_ticks)
    ax.minorticks_off()
    ax.set_yticks(y_ticks)

    if row == 1:
        ax.set_xticklabels(x_tick_labels, fontsize=16)
    else:
        ax.set_xticklabels([])
    if col == 0:
        ax.set_yticklabels(y_tick_labels, fontsize=15.5)
    else:
        ax.set_yticklabels([])

    ax.tick_params(axis="both", which="major", direction="in", length=4, width=1.2,
                   top=True, right=True)
    ax.tick_params(axis="y", pad=7)
    ax.tick_params(axis="x", pad=10)

    for side in ["top", "bottom"]:
        ax.spines[side].set_linewidth(1.6)
    for side in ["left", "right"]:
        ax.spines[side].set_linewidth(0.9)
        ax.spines[side].set_linestyle((0, (4, 1.5)))

    ax.set_title(panel_titles[i], fontsize=17, fontweight="bold", pad=12)
    ax.text(0.955, 0.965, panel_letters[i], transform=ax.transAxes, ha="right", va="top",
            fontsize=11.5, fontweight="bold")

fig.text(0.027, 0.54, "R$_{rs}$(0$^{+}$,443)", rotation=90, ha="center", va="center",
         fontsize=18, fontweight="bold")
fig.text(0.547, 0.024, "C$_{0}$ [mg Chl m$^{\u2010 3}$]", ha="center", va="center",
         fontsize=18, fontweight="bold")

fig.savefig("out.png", dpi=100)
